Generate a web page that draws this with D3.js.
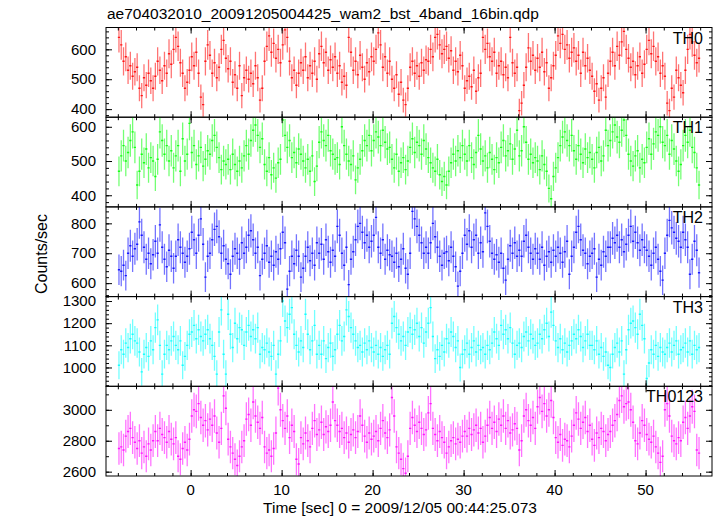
<!DOCTYPE html>
<html><head><meta charset="utf-8">
<script src="https://cdn.jsdelivr.net/npm/d3@7"></script>
<style>
body{margin:0;background:#fff}
svg{display:block}
text{font-family:"Liberation Sans",Arial,Helvetica,sans-serif;fill:#000}
</style>
</head><body>
<svg id="chart" width="717" height="516"></svg>
<script>
// ---------- data ----------
const titleText = "ae704032010_20091205004425_wam2_bst_4band_16bin.qdp";
const xLabel = "Time [sec] 0 = 2009/12/05 00:44:25.073";
const yLabel = "Counts/sec";
const panelNames = ["TH0", "TH1", "TH2", "TH3", "TH0123"];
const panelColors = ["#ff0000", "#00ff00", "#0000ff", "#00ffff", "#ff00ff"];
const tStart = -7.875;   // first bin centre [s]
const binSize = 0.25;    // bin width [s]

const th0 = [
640,615,560,575,530,545,510,525, 540,470,445,505,480,520,495,470,
510,560,530,495,545,520,585,550, 600,640,610,555,520,470,490,530,
575,545,590,520,440,415,560,615, 580,520,555,505,540,600,630,570,
535,560,490,515,470,545,445,505, 530,500,520,485,545,505,430,470,
560,610,645,590,620,570,600,555, 615,665,640,560,505,530,480,520,
555,530,575,505,545,520,560,500, 585,610,555,590,530,565,540,575,
520,545,490,510,480,640,590,530, 560,515,580,540,500,555,525,575,
560,600,655,615,540,575,520,560, 500,470,515,450,490,430,415,470,
540,560,520,545,510,555,530,565, 560,600,575,640,650,615,585,600,
610,570,595,530,560,525,580,545, 470,495,510,475,530,460,505,520,
640,600,620,575,560,590,520,545, 560,515,540,505,640,555,520,540,
395,420,480,540,605,560,580,530, 570,540,590,525,555,470,505,545,
580,645,620,650,600,615,570,590, 605,560,580,520,590,545,570,530,
510,460,485,430,470,505,440,520, 560,590,545,610,580,625,660,600,
570,540,560,515,545,575,520,550, 600,630,585,610,560,575,520,545,
510,420,395,470,440,530,505,480, 455,530,600,650,625,580,555,570];

const th1 = [
470,515,545,500,525,560,585,540, 430,470,520,495,535,480,510,500,
455,505,585,560,520,545,500,530, 480,515,545,470,565,500,520,610,
525,545,490,515,540,485,505,530, 520,560,575,540,510,475,500,490,
505,475,520,490,470,500,480,515, 545,520,560,590,605,575,540,565,
490,470,510,460,480,450,495,505, 620,575,540,560,510,525,495,535,
520,500,480,505,470,515,440,485, 555,585,560,545,575,530,520,505,
510,490,600,545,520,500,490,515, 445,480,505,530,560,545,575,530,
560,585,570,545,590,555,535,540, 505,480,520,470,495,510,475,500,
540,565,525,555,545,520,560,535, 510,495,480,470,505,460,440,455,
430,470,495,520,500,530,510,545, 520,500,545,510,490,525,575,535,
500,515,480,525,505,475,510,495, 540,560,515,530,550,505,535,590,
515,530,600,555,505,520,495,510, 500,475,515,490,470,420,390,455,
480,510,545,570,585,560,545,575, 530,505,545,520,495,535,510,525,
505,480,525,540,500,515,590,545, 560,585,605,570,555,590,620,575,
520,500,485,515,530,480,505,495, 540,565,520,550,585,575,600,555,
545,575,520,560,535,500,470,490, 545,575,555,590,540,525,480,430];

const th2 = [
645,640,660,625,700,725,690,715, 730,805,760,720,680,700,665,695,
740,700,795,720,680,655,710,690, 650,690,745,720,700,670,690,715,
770,745,700,760,815,730,620,690, 700,745,780,790,755,700,725,680,
665,630,690,715,700,680,735,700, 720,760,775,745,700,720,625,680,
700,725,670,690,660,705,680,715, 770,735,580,640,690,665,710,690,
620,650,690,720,675,700,660,735, 700,730,680,745,705,670,710,690,
790,760,700,660,720,595,680,705, 745,790,800,770,735,760,720,740,
760,820,720,700,745,680,710,695, 690,670,700,655,680,715,650,630,
700,840,815,790,760,735,700,720, 700,735,800,755,720,690,660,700,
705,675,720,690,655,590,640,700, 760,730,775,720,745,760,700,735,
705,835,790,740,700,680,695,670, 700,650,610,680,725,700,735,690,
710,690,740,760,720,700,680,715, 700,680,720,660,690,705,670,710,
690,720,700,670,705,740,630,690, 720,770,790,745,710,700,665,690,
700,715,620,680,660,705,690,720, 720,750,735,760,720,745,705,730,
760,790,740,770,735,710,745,720, 710,690,660,700,720,680,640,610,
700,760,810,785,770,750,740,720, 770,745,720,630,680,740,710,635];

const th3 = [
1010,1080,1060,1110,1090,1130,1150,1120, 1110,1070,980,1060,1090,1050,1120,1080,
1180,1215,1100,970,1060,1100,1080,1120, 1140,1100,1080,1120,1010,1050,1100,1150,
1160,1190,1130,1170,1140,1120,1150,1170, 1130,1100,1050,970,1160,1260,1060,970,
1240,1150,1090,1200,1130,1180,1170,1100, 1160,1190,1140,1170,1130,1180,1060,1090,
1080,1110,1070,1050,1100,970,1060,1120, 1300,1210,1180,1240,1270,1150,1100,1070,
1120,1090,1240,1150,1080,1120,1190,1060, 1100,1060,1120,1040,1090,1110,1050,1080,
1150,1190,1120,1140,1260,1230,1180,1150, 1120,1090,1100,1070,1110,1080,1120,1090,
1070,1100,1060,1090,1050,1080,1100,1060, 1200,1230,1180,1150,1120,1140,1100,1160,
1180,1150,1170,1200,1140,1180,1110,1160, 1200,1270,1140,1040,1080,1050,1100,1070,
1130,1110,1160,1140,1090,1120,1000,1060, 1080,1110,1060,1090,1120,1070,1100,1080,
1090,1060,1100,1080,1110,1160,1130,1100, 1190,1150,1170,1130,1180,1110,1060,1100,
1110,1090,1140,1160,1120,1150,1130,1100, 1110,1150,1130,1170,1200,1140,1250,1190,
1120,1090,1130,1080,1110,1070,1100,1120, 1150,1130,1170,1140,1090,1120,1150,1100,
1100,1080,1120,1060,1090,1050,1070,1010, 1000,1060,1090,1110,1070,1120,970,1080,
1170,1200,1210,1180,1150,1240,1190,1130, 950,1020,1080,1060,1100,1050,1090,1070,
1060,1090,1110,1070,1100,1120,1060,1080, 1090,1110,1070,1120,1060,1100,1080,1090];

const th0123 = [
2750,2760,2740,2830,2860,2880,2820,2790, 2750,2800,2720,2760,2700,2780,2740,2800,
2860,2800,2880,2840,2820,2790,2860,2810, 2780,2820,2700,2680,2750,2790,2740,2810,
2960,3000,2990,3040,2950,2900,2930,2870, 2940,2900,2960,2850,2790,2880,3090,3010,
2810,2760,2720,2680,2640,2700,2760,2800, 2940,2970,2900,3050,2960,2920,2880,2950,
2760,2720,2740,2700,2750,2850,3140,3000, 2930,2880,2960,2820,2900,2860,2680,2650,
2820,2780,2850,2800,2760,2880,2930,2840, 2870,2920,2840,2890,2860,2900,3050,2930,
2900,2860,2880,2820,2850,2790,2840,2870, 2820,2860,2960,2900,2830,2790,2850,2810,
2830,2860,2800,2880,2930,2850,2820,2870, 3080,2960,2760,2720,2680,2620,2590,2700,
2880,2950,2900,2860,2920,2880,2840,2870, 2980,3040,2880,2840,2800,2860,2820,2790,
2720,2760,2800,2820,2780,2810,2790,2830, 2860,2830,2880,2840,2870,2900,2850,2880,
2790,2830,2900,2950,2880,2920,2860,2940, 2900,2960,2880,2930,2850,2870,2910,2880,
2740,2800,2960,3000,2930,2900,2950,2880, 3020,3080,2990,3040,2960,3000,3060,2950,
2820,2790,2840,2770,2810,2800,2760,2830, 2900,2980,2940,2880,2920,2950,2860,2900,
2810,2770,2850,2820,2880,2860,2800,2840, 2860,2900,2930,2970,3060,3090,3020,3040,
3050,3000,2920,2800,2780,2850,2930,2900, 2840,2810,2790,2830,2760,2720,2660,2700,
3000,3040,2960,2830,2800,2780,2820,2800, 2920,2950,2880,2960,3020,2990,2740,2720];

const seriesList = [th0, th1, th2, th3, th0123];
const yDomains = [[373, 673], [366, 628], [555, 855], [915, 1320], [2572, 3152]];
const yMajorTicks = [[400, 500, 600], [400, 500, 600], [600, 700, 800], [1000, 1100, 1200, 1300], [2600, 2800, 3000]];
const yMinorTicks = [
  d3.range(380, 673, 20), d3.range(380, 628, 20), d3.range(560, 856, 20),
  d3.range(920, 1321, 20), d3.range(2600, 3152, 100)];
const xMajorTicks = [0, 10, 20, 30, 40, 50];
const xMinorTicks = d3.range(-8, 57, 2);
const xDomain = [-9.3, 57.3];

// ---------- layout ----------
const svg = d3.select("#chart");
const L = 106, R = 712, T = 27.5, B = 476;
const nP = panelNames.length;
const pH = (B - T) / nP;
const x = d3.scaleLinear().domain(xDomain).range([L, R]);

svg.append("text").attr("x", 107).attr("y", 19).attr("font-size", 15.5).text(titleText);

seriesList.forEach((vals, p) => {
  const top = T + p * pH, bot = top + pH;
  const y = d3.scaleLinear().domain(yDomains[p]).range([bot, top]);
  const g = svg.append("g");
  const clipId = "clip" + p;
  svg.append("clipPath").attr("id", clipId).append("rect")
    .attr("x", L).attr("y", top).attr("width", R - L).attr("height", pH);

  const data = vals.map((v, i) => ({t: tStart + i * binSize, v, e: Math.sqrt(v * binSize) / binSize}));
  const dg = g.append("g").attr("clip-path", `url(#${clipId})`);
  // error bars
  dg.append("path")
    .attr("d", data.map(d => `M${x(d.t)},${y(d.v - d.e)}V${y(d.v + d.e)}`).join(""))
    .attr("stroke", panelColors[p]).attr("stroke-opacity", 0.55).attr("stroke-width", 1.3).attr("fill", "none");
  // bin bars
  dg.append("path")
    .attr("d", data.map(d => `M${x(d.t - binSize / 2)},${y(d.v)}H${x(d.t + binSize / 2)}`).join(""))
    .attr("stroke", panelColors[p]).attr("stroke-opacity", 0.85).attr("stroke-width", 1.4).attr("fill", "none");

  // ticks (inward, all four sides)
  const tick = (axis, tr) => {
    const a = g.append("g").attr("transform", tr).call(axis);
    a.select(".domain").remove();
    a.selectAll("text").remove();
    a.selectAll("line").attr("stroke", "#000");
  };
  tick(d3.axisTop(x).tickValues(xMajorTicks).tickSize(6), `translate(0,${bot})`);
  tick(d3.axisTop(x).tickValues(xMinorTicks).tickSize(3), `translate(0,${bot})`);
  tick(d3.axisBottom(x).tickValues(xMajorTicks).tickSize(6), `translate(0,${top})`);
  tick(d3.axisBottom(x).tickValues(xMinorTicks).tickSize(3), `translate(0,${top})`);
  tick(d3.axisRight(y).tickValues(yMajorTicks[p]).tickSize(6), `translate(${L},0)`);
  tick(d3.axisRight(y).tickValues(yMinorTicks[p]).tickSize(3), `translate(${L},0)`);
  tick(d3.axisLeft(y).tickValues(yMajorTicks[p]).tickSize(6), `translate(${R},0)`);
  tick(d3.axisLeft(y).tickValues(yMinorTicks[p]).tickSize(3), `translate(${R},0)`);

  // y tick labels
  g.selectAll("text.yl").data(yMajorTicks[p]).join("text")
    .attr("x", 96).attr("y", d => y(d)).attr("dy", "0.35em")
    .attr("text-anchor", "end").attr("font-size", 15).text(d => d);

  // frame
  g.append("rect").attr("x", L).attr("y", top).attr("width", R - L).attr("height", pH)
    .attr("fill", "none").attr("stroke", "#000").attr("stroke-width", 1);

  // panel label
  g.append("text").attr("x", 703).attr("y", top + 16).attr("text-anchor", "end")
    .attr("font-size", 16).text(panelNames[p]);
});

// x tick labels
svg.selectAll("text.xl").data(xMajorTicks).join("text")
  .attr("x", d => x(d)).attr("y", 494.5).attr("text-anchor", "middle")
  .attr("font-size", 15).text(d => d);

svg.append("text").attr("x", 400).attr("y", 512.5).attr("text-anchor", "middle")
  .attr("font-size", 15.5).text(xLabel);

svg.append("text").attr("transform", `translate(47,254) rotate(-90)`)
  .attr("text-anchor", "middle").attr("font-size", 16).text(yLabel);
</script>
</body></html>
